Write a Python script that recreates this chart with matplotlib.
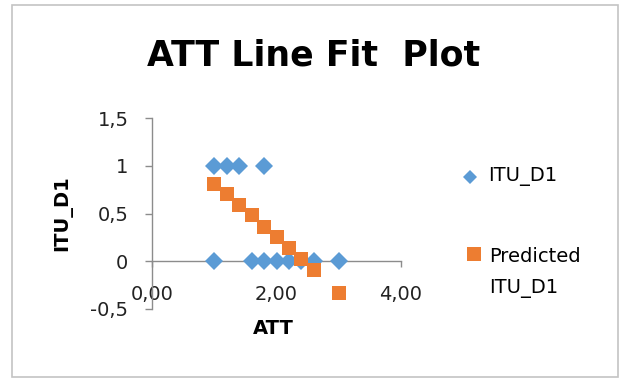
import matplotlib
matplotlib.use("Agg")
import matplotlib.pyplot as plt
from matplotlib.lines import Line2D
from matplotlib.patches import Rectangle

# observed ITU_D1 against ATT
att_obs = [1.0, 1.2, 1.4, 1.8, 1.0, 1.6, 1.8, 2.0, 2.2, 2.4, 2.6, 3.0]
itu_obs = [1, 1, 1, 1, 0, 0, 0, 0, 0, 0, 0, 0]

# fitted values from the regression
att_fit = [1.0, 1.2, 1.4, 1.6, 1.8, 2.0, 2.2, 2.4, 2.6, 3.0]
itu_fit = [0.81, 0.70, 0.59, 0.48, 0.36, 0.25, 0.14, 0.02, -0.09, -0.33]

x_ticks = [0, 2, 4]
x_labels = ["0,00", "2,00", "4,00"]
y_ticks = [1.5, 1, 0.5, 0, -0.5]
y_labels = ["1,5", "1", "0,5", "0", "-0,5"]

blue = "#5B9BD5"
orange = "#ED7D31"
gray = "#8C8C8C"

W, H = 621, 378
fig = plt.figure(figsize=(W / 100, H / 100), dpi=100)

# chart frame
fig.add_artist(Rectangle((12 / W, 1 / H), 606 / W, 372 / H, transform=fig.transFigure,
                         fill=False, edgecolor="#C4C4C4", linewidth=1.2))

ax = fig.add_axes([152 / W, 1 - 309 / H, 249 / W, 191 / H])
ax.plot(att_obs, itu_obs, linestyle="none", marker="D", markersize=9.2,
        color=blue, markeredgewidth=0, clip_on=False, zorder=3)
ax.plot(att_fit, itu_fit, linestyle="none", marker="s", markersize=10,
        color=orange, markeredgewidth=0, clip_on=False, zorder=4)

ax.set_xlim(0, 4)
ax.set_ylim(-0.5, 1.5)
ax.set_xticks(x_ticks)
ax.set_xticklabels(x_labels)
ax.set_yticks(y_ticks)
ax.set_yticklabels(y_labels)

for s in ["top", "right"]:
    ax.spines[s].set_visible(False)
ax.spines["bottom"].set_position(("data", 0))
for s in ["left", "bottom"]:
    ax.spines[s].set_color(gray)
    ax.spines[s].set_linewidth(1)
ax.set_facecolor("none")
ax.tick_params(axis="x", direction="out", length=4, width=1, color=gray,
               labelsize=14, pad=13, labelcolor="#222222")
ax.tick_params(axis="y", direction="out", length=5, width=1, color=gray,
               labelsize=14, pad=12, labelcolor="#222222")

fig.text(314 / W, 1 - 66 / H, "ATT Line Fit  Plot", fontsize=25, fontweight="bold",
         ha="center", va="baseline")
fig.text(273 / W, 1 - 328 / H, "ATT", fontsize=14, fontweight="bold",
         ha="center", va="center")
fig.text(63 / W, 1 - 213 / H, "ITU_D1", fontsize=14, fontweight="bold",
         rotation=90, ha="center", va="center")

# legend
fig.add_artist(Line2D([470 / W], [1 - 177 / H], transform=fig.transFigure,
                      marker="D", markersize=7, color=blue, markeredgewidth=0))
fig.text(488 / W, 1 - 177 / H, "ITU_D1", fontsize=14, ha="left", va="center")
fig.add_artist(Line2D([474 / W], [1 - 254 / H], transform=fig.transFigure,
                      marker="s", markersize=9.5, color=orange, markeredgewidth=0))
fig.text(489 / W, 1 - 257 / H, "Predicted", fontsize=14, ha="left", va="center")
fig.text(489 / W, 1 - 289 / H, "ITU_D1", fontsize=14, ha="left", va="center")

fig.savefig("out.png", dpi=100)
